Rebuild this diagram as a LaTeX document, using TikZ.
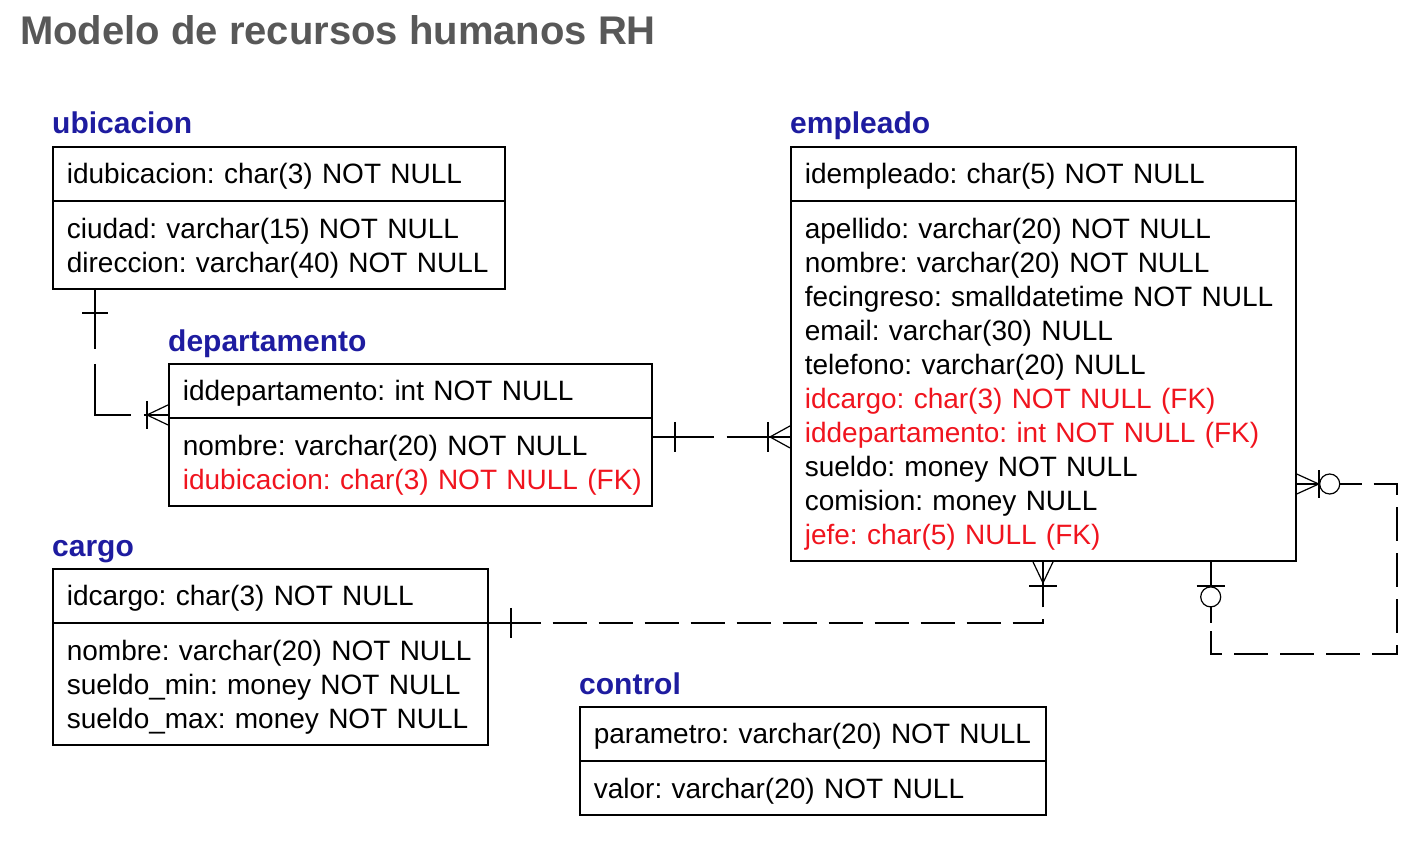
\documentclass[tikz,border=0pt]{standalone}
\usepackage{fontspec}
\setmainfont{Liberation Sans}
\usetikzlibrary{shapes.multipart,positioning,calc}

\definecolor{titlegray}{RGB}{88,88,88}
\definecolor{entblue}{RGB}{30,28,160}
\definecolor{fkred}{RGB}{240,20,30}

\newcommand{\rowstrut}{\rule[-7pt]{0pt}{34pt}}
\newcommand{\fk}[1]{\mbox{\textcolor{fkred}{#1}}}

\tikzset{
  entity/.style={rectangle split, rectangle split parts=2, draw, line width=1.7pt,
    inner xsep=14pt, inner ysep=9.2pt, anchor=north west, align=left,
    font=\fontsize{28}{34}\selectfont\frenchspacing},
  entname/.style={anchor=base west, inner sep=0pt, text=entblue,
    font=\fontsize{30}{36}\selectfont\bfseries},
  rel/.style={line width=1.7pt, dash pattern=on 34pt off 12pt},
  stub/.style={line width=1.7pt},
  crow/.style={line width=1.2pt},
  opt/.style={line width=1.2pt, fill=white}
}

\begin{document}
\begin{tikzpicture}[x=1pt,y=-1pt]
  \useasboundingbox (0,0) rectangle (1418,845);

  \node[anchor=base west, inner sep=0pt, text=titlegray,
    font=\fontsize{40}{48}\selectfont\bfseries] (titulo) at (20,45) {Modelo de recursos humanos RH};

  % tablas
  \node[entity, text width=424pt] (ubicacion) at (52,146) {
    \rowstrut idubicacion: char(3) NOT NULL
    \nodepart{two}
    \rowstrut ciudad: varchar(15) NOT NULL\\
    \rowstrut direccion: varchar(40) NOT NULL};
  \node[entity, text width=455pt] (departamento) at (168,363) {
    \rowstrut iddepartamento: int NOT NULL
    \nodepart{two}
    \rowstrut nombre: varchar(20) NOT NULL\\
    \rowstrut\fk{idubicacion: char(3) NOT NULL (FK)}};
  \node[entity, text width=407pt] (cargo) at (52,568) {
    \rowstrut idcargo: char(3) NOT NULL
    \nodepart{two}
    \rowstrut nombre: varchar(20) NOT NULL\\
    \rowstrut sueldo\_min: money NOT NULL\\
    \rowstrut sueldo\_max: money NOT NULL};
  \node[entity, text width=438pt] (control) at (579,706) {
    \rowstrut parametro: varchar(20) NOT NULL
    \nodepart{two}
    \rowstrut valor: varchar(20) NOT NULL};
  \node[entity, text width=477pt] (empleado) at (790,146) {
    \rowstrut idempleado: char(5) NOT NULL
    \nodepart{two}
    \rowstrut apellido: varchar(20) NOT NULL\\
    \rowstrut nombre: varchar(20) NOT NULL\\
    \rowstrut fecingreso: smalldatetime NOT NULL\\
    \rowstrut email: varchar(30) NULL\\
    \rowstrut telefono: varchar(20) NULL\\
    \rowstrut\fk{idcargo: char(3) NOT NULL (FK)}\\
    \rowstrut\fk{iddepartamento: int NOT NULL (FK)}\\
    \rowstrut sueldo: money NOT NULL\\
    \rowstrut comision: money NULL\\
    \rowstrut\fk{jefe: char(5) NULL (FK)}};

  % nombres de tablas
  \node[entname] (nubicacion) at ([yshift=12pt]ubicacion.north west) {ubicacion};
  \node[entname] (ndepartamento) at ([yshift=12pt]departamento.north west) {departamento};
  \node[entname] (ncargo) at ([yshift=12pt]cargo.north west) {cargo};
  \node[entname] (ncontrol) at ([yshift=12pt]control.north west) {control};
  \node[entname] (nempleado) at ([yshift=12pt]empleado.north west) {empleado};

  % ubicacion -< departamento
  \coordinate (u1) at ([xshift=43pt]ubicacion.south west);
  \coordinate (d1) at ([yshift=3pt]departamento.text split west);
  \draw[rel, dash pattern=on 59pt off 15pt on 87pt off 13pt on 60pt] (u1) |- (d1);
  \draw[stub] ($(u1)+(-13,23)$) -- ++(26,0);
  \draw[crow] ($(d1)+(-21,0)$) -- ($(d1)+(0,-10)$);
  \draw[crow] ($(d1)+(-21,0)$) -- ($(d1)+(0,10)$);
  \draw[stub] ($(d1)+(-21,-14)$) -- ++(0,28);

  % departamento -< empleado
  \coordinate (d2) at ($(departamento.text split east)+(0,19)$);
  \coordinate (e2) at (empleado.west |- d2);
  \draw[rel, dash pattern=on 61pt off 13pt on 80pt] (d2) -- (e2);
  \draw[stub] ($(d2)+(22,-15)$) -- ++(0,30);
  \draw[crow] ($(e2)+(-20,0)$) -- ($(e2)+(0,-11)$);
  \draw[crow] ($(e2)+(-20,0)$) -- ($(e2)+(0,11)$);
  \draw[stub] ($(e2)+(-22,-15)$) -- ++(0,30);

  % cargo -< empleado
  \coordinate (c3) at (cargo.text split east);
  \coordinate (e3) at ([xshift=253pt]empleado.south west);
  \draw[rel, dash phase=28pt] (c3) -| (e3);
  \draw[stub] (c3) -- ++(51,0);
  \draw[stub] (e3) -- ++(0,36);
  \draw[stub] ($(c3)+(22,-15)$) -- ++(0,30);
  \draw[crow] ($(e3)+(0,21)$) -- ($(e3)+(-10,0)$);
  \draw[crow] ($(e3)+(0,21)$) -- ($(e3)+(10,0)$);
  \draw[stub] ($(e3)+(-14,24)$) -- ++(28,0);

  % empleado (jefe) -o< empleado
  \coordinate (er) at ($(empleado.north east)+(0,338)$);
  \coordinate (eb) at ([xshift=-86pt]empleado.south east);
  \draw[rel, dash phase=15pt] (er) -| ($(eb)+(186,92)$) -| (eb);
  \draw[stub] (er) -- ++(62,0);
  \draw[stub] (eb) -- ++(0,61);
  \draw[crow] ($(er)+(22,0)$) -- ($(er)+(0,-10)$);
  \draw[crow] ($(er)+(22,0)$) -- ($(er)+(0,10)$);
  \draw[stub] ($(er)+(22,-14)$) -- ++(0,28);
  \draw[opt] ($(er)+(33,0)$) circle (10);
  \draw[stub] ($(eb)+(-14,24)$) -- ++(28,0);
  \draw[opt] ($(eb)+(0,35)$) circle (10);
\end{tikzpicture}
\end{document}
